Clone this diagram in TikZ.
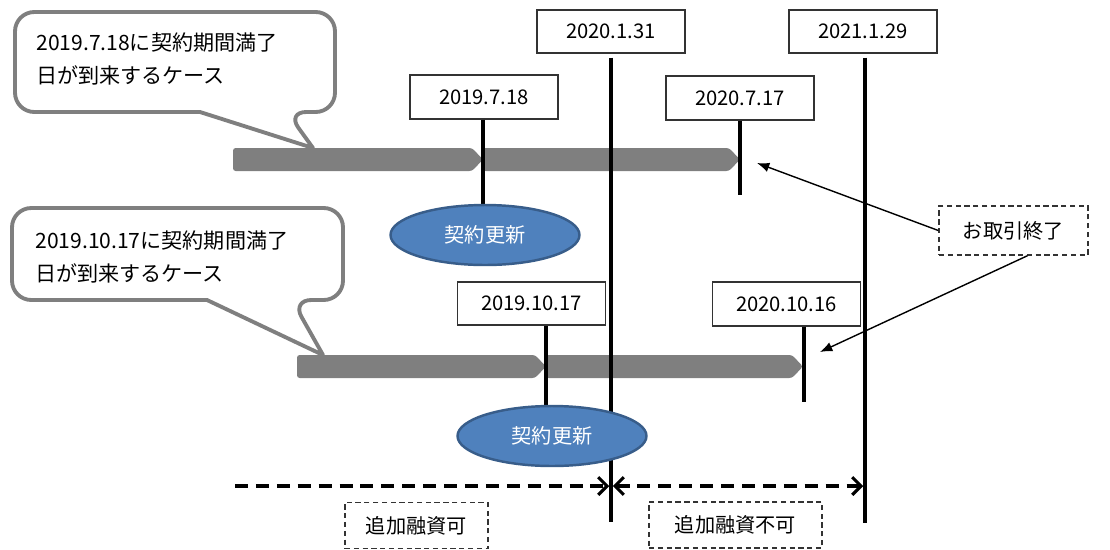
\documentclass[tikz,border=0pt]{standalone}
\usepackage{fontspec}
\setmainfont{Noto Sans CJK JP}
\usetikzlibrary{arrows.meta,shapes.geometric}

\definecolor{barGray}{RGB}{127,127,127}
\definecolor{ovalBlue}{RGB}{79,129,189}
\definecolor{ovalEdge}{RGB}{56,93,138}

\begin{document}
\begin{tikzpicture}[x=0.02cm, y=-0.02cm,
    font=\fontsize{11.5pt}{18.7pt}\selectfont,
    datebox/.style={draw=black!80, line width=1.1pt, fill=white, minimum width=2.96cm, minimum height=0.87cm, inner sep=0pt},
    stem/.style={line width=1.8pt},
    bar/.style={fill=barGray, rounded corners=1.5pt},
    bubble/.style={draw=barGray, line width=2.2pt, fill=white, line join=round, rounded corners=11pt},
    renewal/.style={ellipse, fill=ovalBlue, draw=ovalEdge, line width=1.4pt, text=white, minimum width=3.78cm, minimum height=1.2cm},
    notebox/.style={draw=black!80, line width=0.8pt, dash pattern=on 3pt off 2pt, minimum height=0.92cm, inner sep=0pt},
    period/.style={line width=1.8pt, dash pattern=on 7.4pt off 4.5pt, >={Straight Barb[length=5pt,width=10pt]}},
    pointer/.style={line width=0.8pt, -{Latex[length=7pt,width=5.5pt]}}
  ]
    \useasboundingbox (0,0) rectangle (1110,549);

    % speech bubbles
    \draw[bubble] (15,12) -- (335,12) -- (335,112) -- (287,112) [sharp corners] -- (313,148) -- (200,112) [rounded corners=11pt] -- (15,112) -- cycle;
    \node[anchor=west, align=left, inner sep=0pt, font=\fontsize{12pt}{18.7pt}\selectfont] (case1) at (36,59) {2019.7.18に契約期間満了\\日が到来するケース};
    \draw[bubble] (12,208) -- (343,208) -- (343,300) -- (292,300) [sharp corners] -- (323,355) -- (207,300) [rounded corners=11pt] -- (12,300) -- cycle;
    \node[anchor=west, align=left, inner sep=0pt, font=\fontsize{12pt}{18.7pt}\selectfont] (case2) at (35,257) {2019.10.17に契約期間満了\\日が到来するケース};

    % contract bars
    \foreach \a/\b/\t in {233/483/148, 483/740/148, 297/546/355, 546/803/355}{
      \fill[bar] (\a,\t) -- (\b-11,\t) -- (\b,\t+11.5) -- (\b-11,\t+23) -- (\a,\t+23) -- cycle;
    }

    % date labels
    \node[datebox] (b0131) at (611,31.5) {2020.1.31};
    \node[datebox] (b0129) at (863,31.5) {2021.1.29};
    \node[datebox] (b0718) at (484,97) {2019.7.18};
    \node[datebox] (b0717) at (740,98) {2020.7.17};
    \node[datebox] (b1017) at (531.5,303.5) {2019.10.17};
    \node[datebox] (b1016) at (786.5,304) {2020.10.16};

    \coordinate (e0131) at (611,522);
    \coordinate (e0129) at (865,523);
    \coordinate (e0718) at (483,208);
    \coordinate (e0717) at (740,195);
    \coordinate (e1017) at (546,408);
    \coordinate (e1016) at (804,402);

    \draw[stem] ([yshift=-2pt]b0131.south) -- (e0131);
    \draw[stem] ([yshift=-2pt]b0129.south -| e0129) -- (e0129);
    \foreach \d in {0718,0717,1017,1016}{
      \draw[stem] (b\d.south -| e\d) -- (e\d);
    }

    % renewals
    \node[renewal] (renew1) at (485,235) {契約更新};
    \node[renewal] (renew2) at (552,436) {契約更新};

    % end of contract
    \node[notebox, minimum width=2.98cm, minimum height=0.98cm] (endNote) at (1013.5,230.5) {お取引終了};
    \coordinate (tip0717) at (757,163);
    \coordinate (tip1016) at (820,352);
    \draw[pointer] (endNote.west) -- (tip0717);
    \draw[pointer] ([xshift=0.28cm]endNote.south) -- (tip1016);

    % loan periods
    \coordinate (okStart) at (235,486);
    \draw[period, ->, shorten >=1pt] (okStart) -- (okStart -| e0131);
    \draw[period, <->, shorten <=1pt, shorten >=1pt] (okStart -| e0131) -- (okStart -| e0129);
    \node[notebox, minimum width=2.86cm] (okNote) at (416.5,525.5) {追加融資可};
    \node[notebox, minimum width=3.46cm] (ngNote) at (735.5,525) {追加融資不可};
  \end{tikzpicture}
\end{document}
